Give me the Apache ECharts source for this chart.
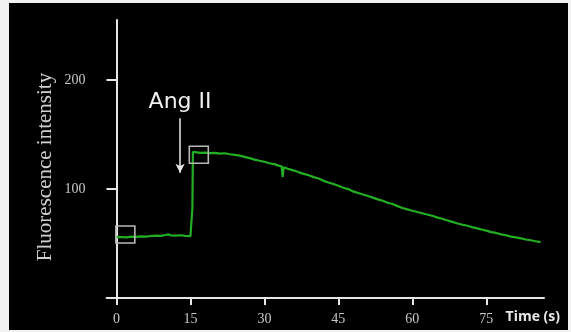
<!DOCTYPE html>
<html><head><meta charset="utf-8">
<script src="https://cdn.jsdelivr.net/npm/echarts@6/dist/echarts.min.js"></script>
<style>
html,body{margin:0;padding:0;background:#f2f2f2;}
#bg{position:absolute;left:9px;top:3px;width:559px;height:327px;background:#000;}
#chart{position:absolute;left:0;top:0;width:571px;height:332px;}
</style></head>
<body>
<div id="bg"></div>
<div id="chart"></div>
<script>
// Time (s)
const times = [0,1,2,3,4,5,6,7,8,9,10,10.5,11,12,13,14,15,15.3,15.4,15.5,16,17,18,19,20,21,22,23,24,25,26,27,28,29,30,31,32,33,33.5,33.7,33.9,34,35,36,37,38,39,40,41,42,43,44,45,46,47,48,49,50,51,52,53,54,55,56,57,58,59,60,61,62,63,64,65,66,67,68,69,70,71,72,73,74,75,76,77,78,79,80,81,82,83,84,85,86];
// Fluorescence intensity
const intensity = [55.8,56.0,55.6,56.3,56.1,56.6,56.4,56.9,57.2,57.0,57.8,58.4,57.5,57.3,57.6,57.1,56.8,57.0,83.0,134.0,133.8,133.2,133.4,132.9,133.1,132.5,132.8,131.9,131.3,130.6,129.5,128.3,127.0,125.9,125.0,123.6,122.8,121.2,120.8,111.0,120.0,119.8,118.2,116.9,115.3,113.9,112.6,110.9,109.6,107.5,106.0,104.6,103.0,101.2,99.9,97.8,96.4,95.0,93.6,92.1,90.5,89.2,87.4,86.3,84.3,82.6,81.3,80.1,78.9,77.8,76.6,75.5,74.0,72.7,71.4,70.1,68.6,67.4,66.5,65.1,64.1,62.9,61.8,60.5,59.7,58.4,57.6,56.3,55.6,54.8,53.7,53.0,52.1,51.3];
const xTicks = [0,15,30,45,60,75];
const yTicks = [100,200];
// highlighted sample boxes [time, intensity]
const boxes = [[1.8,58.3],[16.7,131.4]];
// stimulus arrow: [time, from, to]
const stim = {label:'Ang II', time:12.9, from:165, to:115};

const data = times.map((t,i)=>[t,intensity[i]]);
const axisColor = '#e6e6e6';
const chart = echarts.init(document.getElementById('chart'));
chart.setOption({
  backgroundColor:'transparent',
  animation:false,
  grid:{left:106.6,right:27,top:20,bottom:28.5},
  xAxis:{type:'value',min:-2,max:86.7,
    axisLine:{onZero:true,lineStyle:{color:axisColor,width:2}},
    axisTick:{customValues:xTicks,length:7,lineStyle:{color:axisColor,width:2}},
    axisLabel:{customValues:xTicks,color:'#c8c8c8',fontFamily:'Liberation Serif',fontSize:14,margin:9},
    splitLine:{show:false}},
  yAxis:{type:'value',min:-5,max:255,
    axisLine:{show:true,onZero:true,lineStyle:{color:axisColor,width:2}},
    axisTick:{show:true,customValues:yTicks,length:10,lineStyle:{color:axisColor,width:2}},
    axisLabel:{customValues:yTicks,color:'#c8c8c8',fontFamily:'Liberation Serif',fontSize:14,margin:21},
    splitLine:{show:false}},
  graphic:[
    {type:'text',x:45,y:167,rotation:Math.PI/2,style:{text:'Fluorescence intensity',fill:'#d0d0d0',font:'21px "Liberation Serif"',textAlign:'center',textVerticalAlign:'middle'}},
    {type:'text',right:11,top:310,style:{text:'Time (s)',fill:'#e8e8e8',font:'bold 14px "Open Sans"'}}
  ],
  series:[{type:'line',data:data,showSymbol:false,
    lineStyle:{color:'#22b022',width:2.2},
    markPoint:{silent:true,symbol:'rect',symbolSize:[19,17],
      itemStyle:{color:'rgba(0,0,0,0)',borderColor:'#b8b8b8',borderWidth:1.5},
      label:{show:false},
      data:boxes.map(b=>({coord:b}))},
    markLine:{silent:true,symbol:['none','arrow'],symbolSize:[7,9],
      lineStyle:{color:'#e8e8e8',width:1.5,type:'solid'},
      label:{show:true,position:'start',formatter:stim.label,color:'#f0f0f0',fontFamily:'DejaVu Sans',fontSize:22,distance:5},
      data:[[{coord:[stim.time,stim.from]},{coord:[stim.time,stim.to]}]]}
  }]
});
</script>
</body></html>
